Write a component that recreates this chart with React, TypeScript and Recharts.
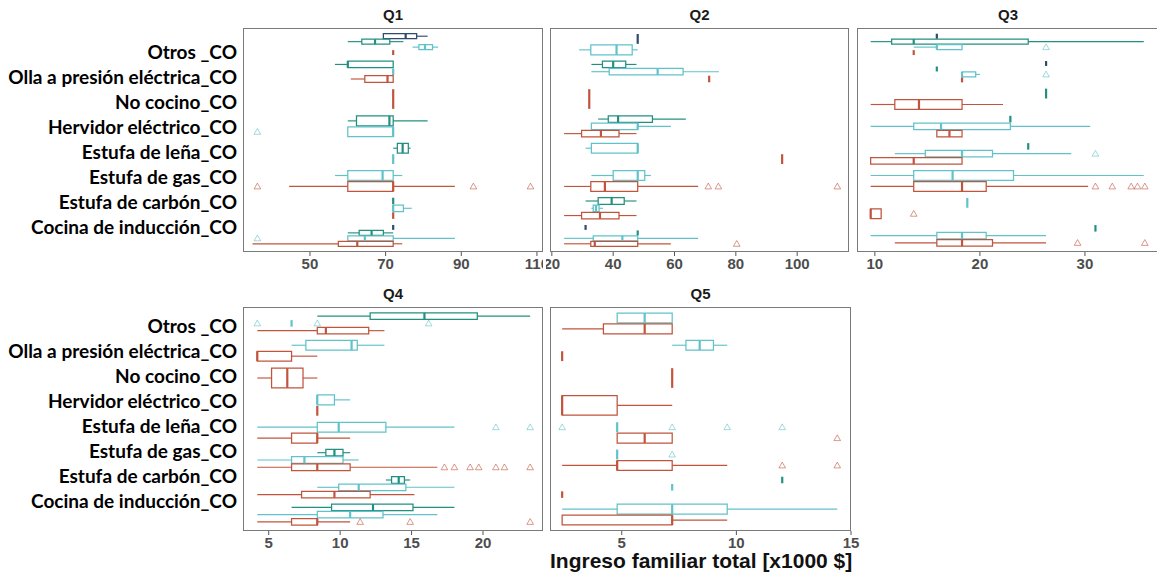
import React from "react";
import {
  ScatterChart,
  Scatter,
  XAxis,
  YAxis,
  ReferenceArea,
  ReferenceLine,
} from "recharts";

// Cooking device categories, bottom (1) to top (8) of each facet
const categories = [
  "Cocina de inducción_CO",
  "Estufa de carbón_CO",
  "Estufa de gas_CO",
  "Estufa de leña_CO",
  "Hervidor eléctrico_CO",
  "No cocino_CO",
  "Olla a presión eléctrica_CO",
  "Otros _CO",
];

// Dodge order inside a category, top to bottom
const groups = ["A", "B", "C", "D"];

const facetTitles = ["Q1", "Q2", "Q3", "Q4", "Q5"];
const xTitle = "Ingreso familiar total [x1000 $]";

// [category (1-8), group, min, q1, median, q3, max]
type Box = [number, string, number, number, number, number, number];
// [category (1-8), group, value]
type Outlier = [number, string, number];

const q1Boxes: Box[] = [
  [8, "A", 69.4, 69.4, 75.3, 78.2, 81.1],
  [8, "B", 60, 63.7, 67.2, 71.1, 74.7],
  [8, "C", 77.1, 78.8, 80.4, 82.4, 83.9],
  [8, "D", 72, 72, 72, 72, 72],
  [7, "B", 56.6, 60, 60, 72, 72],
  [7, "C", 72, 72, 72, 72, 72],
  [7, "D", 60.8, 64.5, 70.5, 72, 72],
  [6, "D", 72, 72, 72, 72, 72],
  [5, "B", 60, 62.3, 71, 72, 81.1],
  [5, "C", 60, 60, 72, 72, 72],
  [4, "B", 72, 73.1, 74.5, 76, 76.6],
  [4, "C", 72, 72, 72, 72, 72],
  [3, "C", 56.6, 60, 69.2, 72, 74.4],
  [3, "D", 44.5, 60, 72, 72, 88.3],
  [2, "B", 72, 72, 72, 72, 72],
  [2, "C", 72, 72, 72, 74.7, 76.9],
  [2, "D", 72, 72, 72, 72, 72],
  [1, "A", 72, 72, 72, 72, 72],
  [1, "B", 60, 63, 66.3, 69.4, 72],
  [1, "C", 60, 60, 64.5, 72, 88.3],
  [1, "D", 34.8, 57.5, 62.5, 72, 74.4],
];
const q1Outliers: Outlier[] = [
  [5, "C", 36.1],
  [3, "D", 36.1],
  [3, "D", 93.2],
  [3, "D", 108.3],
  [1, "C", 36.1],
];

const q2Boxes: Box[] = [
  [8, "A", 48, 48, 48, 48, 48],
  [8, "C", 28.9, 32.7, 41.1, 46.2, 48],
  [7, "B", 32.9, 36.5, 40, 44.1, 47.6],
  [7, "C", 32.9, 38.7, 54.5, 62.8, 74.5],
  [7, "D", 71.3, 71.3, 71.3, 71.3, 71.3],
  [6, "D", 32.2, 32.2, 32.2, 32.2, 32.2],
  [5, "B", 35.1, 38.4, 41.6, 52.8, 63.7],
  [5, "C", 32.9, 32.9, 48, 48, 58.8],
  [5, "D", 24, 29.7, 36, 41.9, 47.6],
  [4, "C", 31, 32.9, 48, 48, 48],
  [4, "D", 95.1, 95.1, 95.1, 95.1, 95.1],
  [3, "C", 32.9, 40, 48, 50.3, 52.3],
  [3, "D", 24, 32.7, 37.3, 48, 67.7],
  [2, "B", 31, 35.1, 39.5, 43.6, 47.6],
  [2, "C", 32.9, 33.5, 34.4, 35.4, 36.7],
  [2, "D", 24, 29.7, 35.7, 41.9, 47.6],
  [1, "A", 31, 31, 31, 31, 31],
  [1, "B", 48, 48, 48, 48, 48],
  [1, "C", 24, 33.5, 43, 48, 67.7],
  [1, "D", 24, 32.7, 34, 48, 58.8],
];
const q2Outliers: Outlier[] = [
  [3, "D", 71],
  [3, "D", 74.3],
  [3, "D", 113.1],
  [1, "D", 80.3],
];

const q3Boxes: Box[] = [
  [8, "A", 15.9, 15.9, 15.9, 15.9, 15.9],
  [8, "B", 9.6, 11.6, 13.7, 24.6, 35.6],
  [8, "C", 13.7, 15.9, 15.9, 18.3, 18.3],
  [8, "D", 13.7, 13.7, 13.7, 13.7, 13.7],
  [7, "A", 26.3, 26.3, 26.3, 26.3, 26.3],
  [7, "B", 15.9, 15.9, 15.9, 15.9, 15.9],
  [7, "C", 18.3, 18.3, 18.3, 19.6, 20],
  [7, "D", 18.3, 18.3, 18.3, 18.3, 18.3],
  [6, "B", 26.3, 26.3, 26.3, 26.3, 26.3],
  [6, "D", 9.6, 11.9, 14.2, 18.3, 22.2],
  [5, "B", 22.9, 22.9, 22.9, 22.9, 22.9],
  [5, "C", 9.6, 13.7, 16.3, 22.9, 30.5],
  [5, "D", 15.9, 15.9, 17.1, 18.3, 18.3],
  [4, "B", 24.6, 24.6, 24.6, 24.6, 24.6],
  [4, "C", 11.9, 14.8, 18.3, 21.2, 28.7],
  [4, "D", 9.6, 9.6, 13.7, 18.3, 18.3],
  [3, "C", 9.6, 13.7, 17.4, 23.2, 35.6],
  [3, "D", 9.6, 13.7, 18.3, 20.6, 30.3],
  [2, "C", 18.8, 18.8, 18.8, 18.8, 18.8],
  [2, "D", 9.6, 9.6, 9.6, 10.6, 10.6],
  [1, "B", 31, 31, 31, 31, 31],
  [1, "C", 9.6, 15.9, 18.3, 20.6, 26.3],
  [1, "D", 11.9, 15.9, 18.3, 21.2, 26.3],
];
const q3Outliers: Outlier[] = [
  [8, "C", 26.3],
  [7, "C", 26.3],
  [4, "C", 31],
  [3, "D", 31],
  [3, "D", 32.6],
  [3, "D", 34.4],
  [3, "D", 35],
  [3, "D", 35.7],
  [2, "D", 13.7],
  [1, "D", 29.3],
  [1, "D", 35.7],
];

const q4Boxes: Box[] = [
  [8, "B", 8.4, 12.1, 15.9, 19.6, 23.3],
  [8, "C", 6.6, 6.6, 6.6, 6.6, 6.6],
  [8, "D", 4.2, 8.4, 9, 12, 13.1],
  [7, "C", 6.6, 7.6, 10.8, 11.2, 13.1],
  [7, "D", 4.2, 4.2, 4.2, 6.6, 8.4],
  [6, "D", 4.2, 5.2, 6.3, 7.4, 8.4],
  [5, "C", 8.4, 8.4, 8.4, 9.6, 10.7],
  [5, "D", 8.4, 8.4, 8.4, 8.4, 8.4],
  [4, "C", 4.2, 8.4, 9.9, 13.2, 18],
  [4, "D", 4.2, 6.6, 8.4, 8.4, 10.7],
  [3, "B", 8.4, 9, 9.6, 10.2, 10.7],
  [3, "C", 4.2, 6.6, 7.5, 10.2, 11.3],
  [3, "D", 4.2, 6.6, 8.4, 10.7, 16.8],
  [2, "B", 13.2, 13.6, 14.1, 14.5, 14.9],
  [2, "C", 8.4, 9.9, 11.3, 14.6, 18],
  [2, "D", 4.2, 7.3, 9.6, 12.1, 15.2],
  [1, "B", 6.6, 9.4, 12.3, 15.1, 18],
  [1, "C", 4.2, 8.4, 10.7, 13, 16.8],
  [1, "D", 4.2, 6.6, 8.4, 8.4, 10.7],
];
const q4Outliers: Outlier[] = [
  [8, "C", 4.2],
  [8, "C", 8.4],
  [8, "C", 16.2],
  [4, "C", 20.9],
  [4, "C", 23.3],
  [3, "D", 17.3],
  [3, "D", 18],
  [3, "D", 19.1],
  [3, "D", 19.7],
  [3, "D", 20.9],
  [3, "D", 21.5],
  [3, "D", 23.3],
  [1, "D", 11.4],
  [1, "D", 14.9],
  [1, "D", 23.3],
];

const q5Boxes: Box[] = [
  [8, "C", 4.8, 4.8, 6, 7.2, 7.2],
  [8, "D", 2.4, 4.2, 6, 7.2, 7.2],
  [7, "C", 7.2, 7.8, 8.4, 9, 9.6],
  [7, "D", 2.4, 2.4, 2.4, 2.4, 2.4],
  [6, "D", 7.2, 7.2, 7.2, 7.2, 7.2],
  [5, "D", 2.4, 2.4, 2.4, 4.8, 7.2],
  [4, "C", 4.8, 4.8, 4.8, 4.8, 4.8],
  [4, "D", 4.8, 4.8, 6, 7.2, 7.2],
  [3, "C", 4.8, 4.8, 4.8, 4.8, 4.8],
  [3, "D", 2.4, 4.8, 4.8, 7.2, 9.6],
  [2, "B", 12, 12, 12, 12, 12],
  [2, "C", 7.2, 7.2, 7.2, 7.2, 7.2],
  [2, "D", 2.4, 2.4, 2.4, 2.4, 2.4],
  [1, "C", 2.4, 4.8, 7.2, 9.6, 14.4],
  [1, "D", 2.4, 2.4, 7.2, 7.2, 9.6],
];
const q5Outliers: Outlier[] = [
  [4, "C", 2.4],
  [4, "C", 7.2],
  [4, "C", 9.6],
  [4, "C", 12],
  [4, "D", 14.4],
  [3, "C", 7.2],
  [3, "D", 12],
  [3, "D", 14.4],
];

// x-axis ticks of each facet
const q1Ticks = [50, 70, 90, 110];
const q2Ticks = [20, 40, 60, 80, 100];
const q3Ticks = [10, 20, 30];
const q4Ticks = [5, 10, 15, 20];
const q5Ticks = [5, 10, 15];

// ---- styling ----
const COLORS: Record<string, string> = {
  A: "#2f4a6b",
  B: "#22907f",
  C: "#60c2ca",
  D: "#c1543d",
};
const DODGE = 0.8;
const PAD = 0.1;
const Y_W = 4;
const X_H = 34;
const TICK_FONT = "'Liberation Sans', Arial, sans-serif";
const LABEL_FONT = "Lato, 'Open Sans', sans-serif";
const yTicks = categories.map((_, i) => i + 1);

type Placed = {
  cat: number;
  group: string;
  min: number;
  q1: number;
  med: number;
  q3: number;
  max: number;
  center: number;
  half: number;
};

// ggplot-style dodging: boxes present in a category share its band
function placeBoxes(boxes: Box[]): Placed[] {
  const out: Placed[] = [];
  for (let c = 1; c <= categories.length; c++) {
    const inCat = boxes
      .filter((b) => b[0] === c)
      .sort((a, b) => groups.indexOf(a[1]) - groups.indexOf(b[1]));
    const n = inCat.length;
    inCat.forEach((b, i) => {
      const slot = DODGE / n;
      out.push({
        cat: c,
        group: b[1],
        min: b[2],
        q1: b[3],
        med: b[4],
        q3: b[5],
        max: b[6],
        center: c + slot * ((n - 1) / 2 - i),
        half: (slot * (1 - PAD)) / 2,
      });
    });
  }
  return out;
}

type Panel = {
  title: string;
  boxes: Box[];
  outliers: Outlier[];
  domain: [number, number];
  ticks: number[];
  left: number;
  top: number;
  width: number;
  height: number;
  showY: boolean;
  rightPad: number;
};

const panels: Panel[] = [
  { title: facetTitles[0], boxes: q1Boxes, outliers: q1Outliers, domain: [32.3, 111.6], ticks: q1Ticks, left: 243, top: 28, width: 300, height: 224, showY: true, rightPad: 0 },
  { title: facetTitles[1], boxes: q2Boxes, outliers: q2Outliers, domain: [19.4, 116.9], ticks: q2Ticks, left: 550, top: 28, width: 299, height: 224, showY: false, rightPad: 0 },
  { title: facetTitles[2], boxes: q3Boxes, outliers: q3Outliers, domain: [8.3, 37.05], ticks: q3Ticks, left: 857, top: 28, width: 302, height: 224, showY: false, rightPad: 0 },
  { title: facetTitles[3], boxes: q4Boxes, outliers: q4Outliers, domain: [3.2, 24.2], ticks: q4Ticks, left: 243, top: 307, width: 300, height: 224, showY: true, rightPad: 0 },
  { title: facetTitles[4], boxes: q5Boxes, outliers: q5Outliers, domain: [1.87, 15], ticks: q5Ticks, left: 550, top: 307, width: 301, height: 224, showY: false, rightPad: 12 },
];

const OutlierMark = (props: any) => {
  const { cx, cy, payload } = props;
  if (cx == null || cy == null) return null;
  const s = 3.3;
  return (
    <path
      d={`M${cx},${cy - s} L${cx + s},${cy + s * 0.75} L${cx - s},${cy + s * 0.75} Z`}
      fill="none"
      stroke={COLORS[payload.group]}
      strokeOpacity={0.6}
      strokeWidth={1}
    />
  );
};

function Facet({ p }: { p: Panel }) {
  const placed = placeBoxes(p.boxes);
  const outlierData = p.outliers.map(([cat, group, value]) => {
    const box = placed.find((b) => b.cat === cat && b.group === group);
    return { x: value, y: box ? box.center : cat, group };
  });

  const areas = placed
    .filter((b) => b.q3 > b.q1)
    .map((b, i) => (
      <ReferenceArea
        key={`box-${i}`}
        x1={b.q1}
        x2={b.q3}
        y1={b.center - b.half}
        y2={b.center + b.half}
        fill="none"
        fillOpacity={0}
        stroke={COLORS[b.group]}
        strokeWidth={1.25}
        ifOverflow="visible"
      />
    ));

  const whiskers = placed.flatMap((b, i) => {
    const segs: React.ReactElement[] = [];
    if (b.min < b.q1)
      segs.push(
        <ReferenceLine
          key={`wl-${i}`}
          segment={[
            { x: b.min, y: b.center },
            { x: b.q1, y: b.center },
          ]}
          stroke={COLORS[b.group]}
          strokeWidth={1.15}
          ifOverflow="visible"
        />
      );
    if (b.max > b.q3)
      segs.push(
        <ReferenceLine
          key={`wr-${i}`}
          segment={[
            { x: b.q3, y: b.center },
            { x: b.max, y: b.center },
          ]}
          stroke={COLORS[b.group]}
          strokeWidth={1.15}
          ifOverflow="visible"
        />
      );
    return segs;
  });

  const medians = placed.map((b, i) => (
    <ReferenceLine
      key={`med-${i}`}
      segment={[
        { x: b.med, y: b.center - b.half },
        { x: b.med, y: b.center + b.half },
      ]}
      stroke={COLORS[b.group]}
      strokeWidth={2.2}
      ifOverflow="visible"
    />
  ));

  return (
    <>
      <div
        style={{
          position: "absolute",
          left: p.left,
          top: p.top - 21,
          width: p.width,
          textAlign: "center",
          fontFamily: TICK_FONT,
          fontWeight: 700,
          fontSize: 15,
          lineHeight: "15px",
          color: "#1a1a1a",
        }}
      >
        {p.title}
      </div>
      <div style={{ position: "absolute", left: p.left - Y_W, top: p.top }}>
        <ScatterChart
          width={p.width + Y_W + p.rightPad}
          height={p.height + X_H}
          margin={{ top: 0, right: p.rightPad, bottom: 0, left: 0 }}
        >
          <XAxis
            type="number"
            dataKey="x"
            domain={p.domain}
            ticks={p.ticks}
            interval={0}
            allowDataOverflow
            axisLine={false}
            tickLine={{ stroke: "#555" }}
            tickSize={4}
            height={X_H}
            tick={{ fill: "#4d4d4d", fontSize: 15, fontWeight: 700, fontFamily: TICK_FONT }}
          />
          <YAxis
            type="number"
            dataKey="y"
            domain={[0.4, 8.6]}
            ticks={yTicks}
            interval={0}
            allowDataOverflow
            width={Y_W}
            axisLine={false}
            tick={false}
            tickLine={p.showY ? { stroke: "#555" } : false}
            tickSize={3}
          />
          {areas}
          {whiskers}
          {medians}
          <Scatter data={outlierData} shape={<OutlierMark />} isAnimationActive={false} />
        </ScatterChart>
      </div>
      <div
        style={{
          position: "absolute",
          left: p.left,
          top: p.top,
          width: p.width,
          height: p.height,
          border: "1px solid #7a7a7a",
          boxSizing: "border-box",
          pointerEvents: "none",
        }}
      />
    </>
  );
}

function CategoryLabels({ top }: { top: number }) {
  const rows = categories.slice().reverse();
  return (
    <div
      style={{
        position: "absolute",
        left: 0,
        top,
        width: 237,
        textAlign: "right",
        fontFamily: LABEL_FONT,
        fontWeight: 700,
        fontSize: 19,
        lineHeight: "25px",
        color: "#000",
        whiteSpace: "pre",
      }}
    >
      {rows.map((c) => (
        <div key={c}>{c}</div>
      ))}
    </div>
  );
}

export default function App() {
  return (
    <div
      style={{
        position: "absolute",
        left: 0,
        top: 0,
        width: 1157,
        height: 580,
        background: "#fff",
        overflow: "hidden",
      }}
    >
      <CategoryLabels top={39} />
      <CategoryLabels top={312.5} />
      {panels.map((p) => (
        <Facet key={p.title} p={p} />
      ))}
      <div
        style={{
          position: "absolute",
          left: 550,
          top: 549,
          width: 301,
          textAlign: "center",
          fontFamily: TICK_FONT,
          fontWeight: 700,
          fontSize: 21,
          lineHeight: "24px",
          color: "#111",
          whiteSpace: "nowrap",
        }}
      >
        {xTitle}
      </div>
    </div>
  );
}
